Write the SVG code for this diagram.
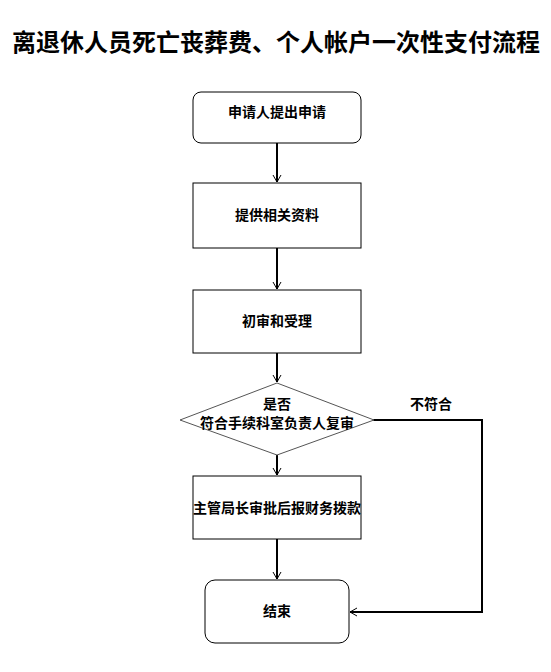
<svg xmlns="http://www.w3.org/2000/svg" width="551" height="672" viewBox="0 0 551 672">
<style>
.b{fill:#fff;stroke:#000;stroke-width:1}
.t{font-family:"Noto Sans CJK SC",sans-serif;font-size:14px;font-weight:bold;text-anchor:middle;fill:#000}
.c{fill:none;stroke:#000;stroke-width:2}
</style>
<defs>
<marker id="a" markerWidth="10" markerHeight="10" refX="8" refY="5" orient="auto" markerUnits="userSpaceOnUse">
<path d="M1,1 L8,5 L1,9" fill="none" stroke="#000" stroke-width="1"/>
</marker>
</defs>
<rect width="551" height="672" fill="#fff"/>
<text x="276" y="51" style="font-family:'Noto Sans CJK SC',serif;font-size:24px;font-weight:bold;text-anchor:middle" fill="#000">离退休人员死亡丧葬费、个人帐户一次性支付流程</text>
<g id="connectors">
<line class="c" x1="277" y1="143" x2="277" y2="182" marker-end="url(#a)"/>
<line class="c" x1="277" y1="248" x2="277" y2="289" marker-end="url(#a)"/>
<line class="c" x1="277" y1="353" x2="277" y2="382" marker-end="url(#a)"/>
<line class="c" x1="277" y1="455" x2="277" y2="475" marker-end="url(#a)"/>
<line class="c" x1="277" y1="539" x2="277" y2="579" marker-end="url(#a)"/>
<polyline class="c" points="373,420 482,420 482,612 350,612" marker-end="url(#a)"/>
<text class="t" x="431" y="409">不符合</text>
</g>
<g id="n1"><rect class="b" x="193" y="92" width="168" height="51" rx="8"/><text class="t" x="277" y="117">申请人提出申请</text></g>
<g id="n2"><rect class="b" x="193" y="183" width="168" height="65"/><text class="t" x="277" y="220">提供相关资料</text></g>
<g id="n3"><rect class="b" x="193" y="290" width="168" height="63"/><text class="t" x="277" y="326">初审和受理</text></g>
<g id="n4"><polygon points="277,383 374,420 277,455 180,420" fill="#fff" stroke="#555" stroke-width="1"/><text class="t" x="277" y="409">是否</text><text class="t" x="277" y="428">符合手续科室负责人复审</text></g>
<g id="n5"><rect class="b" x="193" y="476" width="168" height="63"/><text class="t" x="277" y="513">主管局长审批后报财务拨款</text></g>
<g id="n6"><rect class="b" x="205" y="580" width="144" height="63" rx="10" stroke="#444"/><text class="t" x="277" y="616">结束</text></g>
</svg>
